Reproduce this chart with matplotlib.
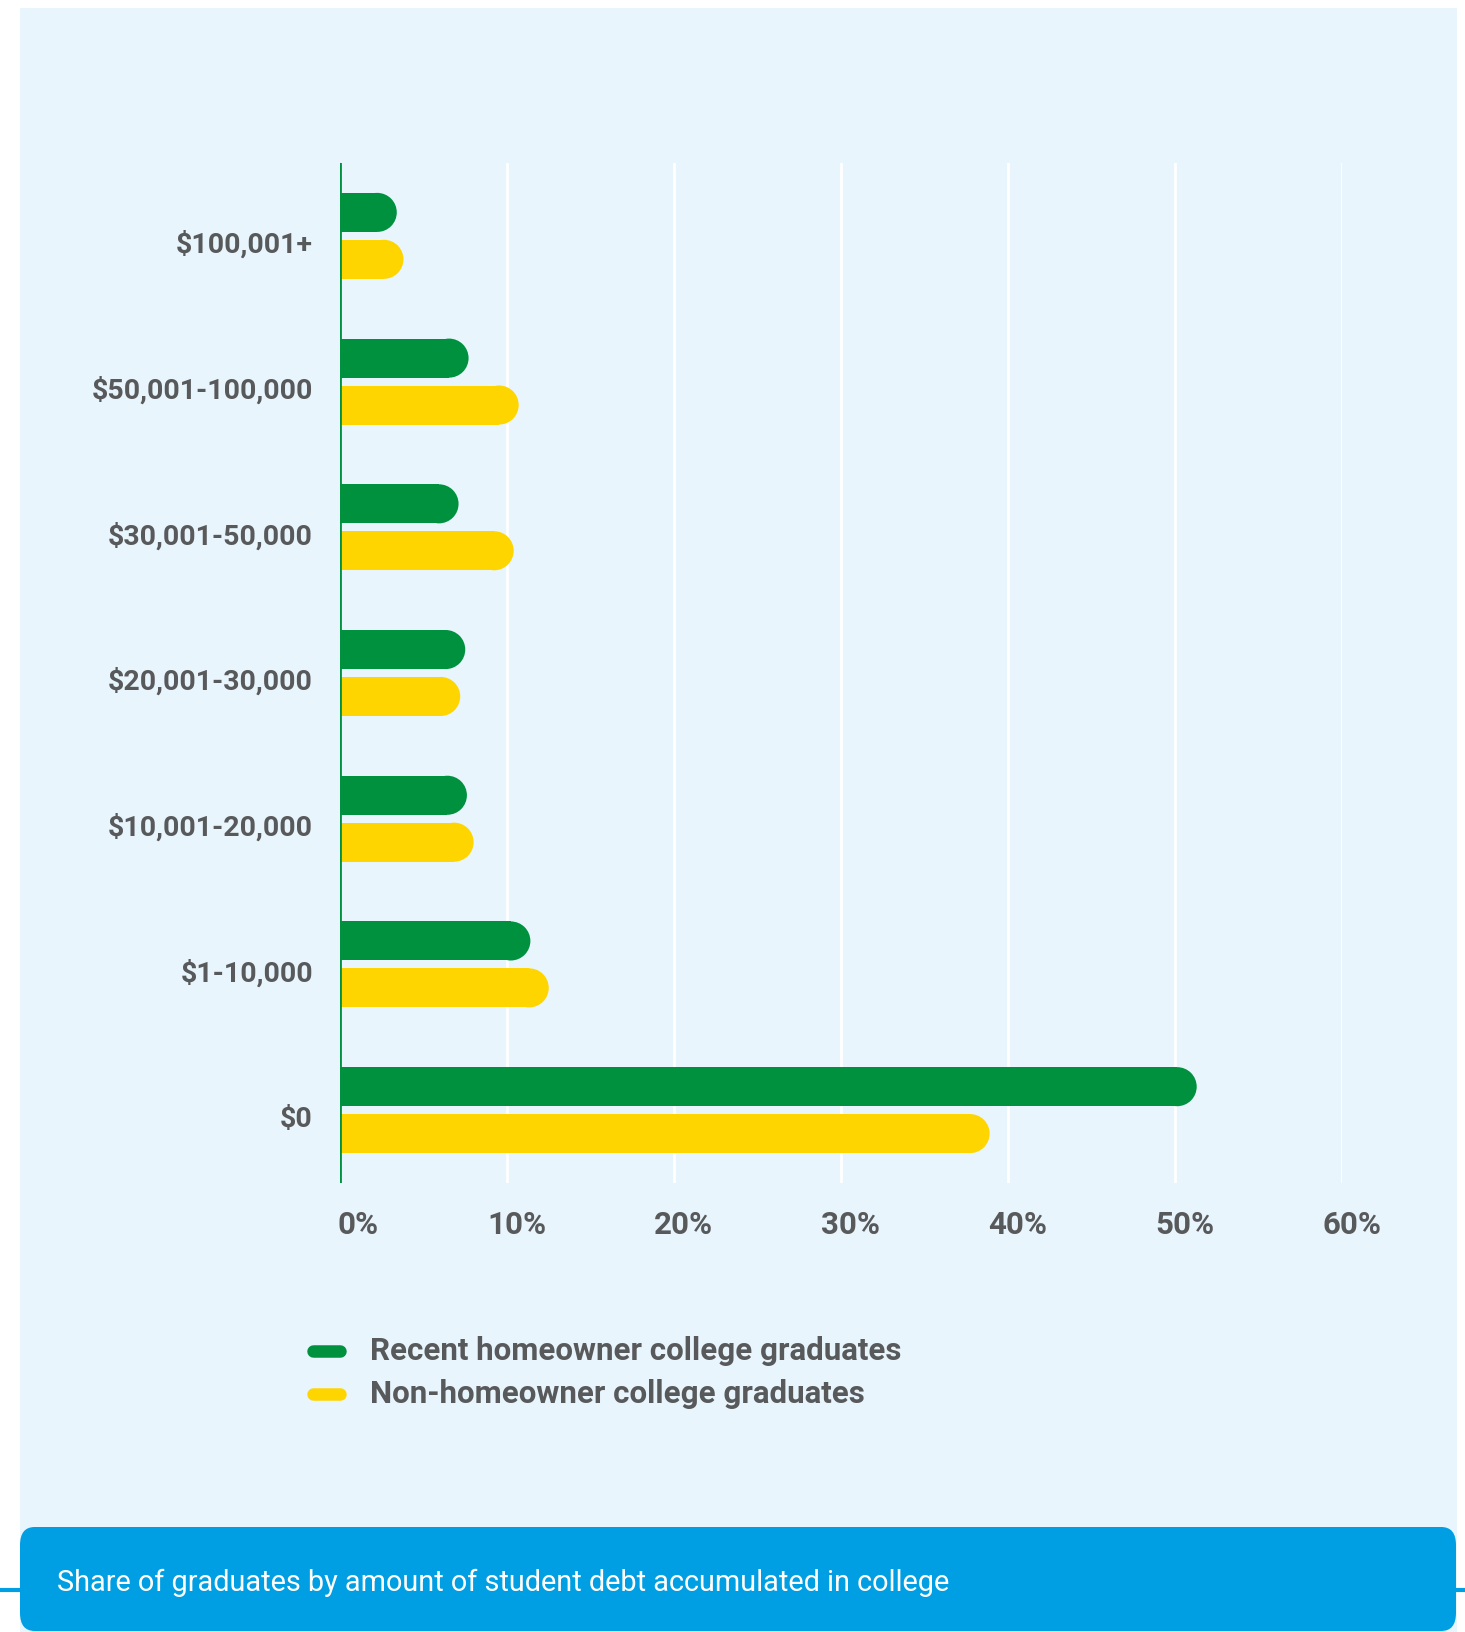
import matplotlib.pyplot as plt
from matplotlib.patches import Ellipse, FancyBboxPatch, Rectangle
from matplotlib.lines import Line2D
from matplotlib.transforms import ScaledTranslation

# student debt brackets, top to bottom
categories = ['$100,001+', '$50,001-100,000', '$30,001-50,000', '$20,001-30,000',
              '$10,001-20,000', '$1-10,000', '$0']
homeowners = [3.4, 7.7, 7.1, 7.5, 7.6, 11.4, 51.3]
non_homeowners = [3.8, 10.7, 10.4, 7.2, 8.0, 12.5, 38.9]
xticks = [0, 10, 20, 30, 40, 50, 60]
xtick_labels = ['0%', '10%', '20%', '30%', '40%', '50%', '60%']
series_names = ['Recent homeowner college graduates', 'Non-homeowner college graduates']

GREEN = '#00913f'
YELLOW = '#ffd500'
PANEL = '#e8f5fd'
BLUE = '#009fe3'
GREY = '#58595b'
FONT = 'Roboto'

W, H, DPI = 1465, 1632, 100
fig = plt.figure(figsize=(W / DPI, H / DPI), dpi=DPI, facecolor='white')


def fx(px):
    return px / W


def fy(py):
    return 1 - py / H


# light blue panel behind everything
fig.add_artist(Rectangle((fx(20), 0), fx(1437), fy(8), transform=fig.transFigure,
                         facecolor=PANEL, edgecolor='none', zorder=0))

ax_left, ax_right, ax_top, ax_bottom = 340, 1342, 163, 1183
ax = fig.add_axes([fx(ax_left), fy(ax_bottom), fx(ax_right - ax_left), (ax_bottom - ax_top) / H])
ax.set_facecolor('none')
ax.set_xlim(0, 60)
ax.set_ylim(-0.5, len(categories) - 0.5)

bar_h = 0.268
offset = 0.161
px_per_x = (ax_right - ax_left) / 60
px_per_y = (ax_bottom - ax_top) / len(categories)
cap = (bar_h * px_per_y / 2) / px_per_x  # cap radius in x units

ypos = list(range(len(categories) - 1, -1, -1))
for vals, color, dy in [(homeowners, GREEN, offset), (non_homeowners, YELLOW, -offset)]:
    ys = [y + dy for y in ypos]
    ax.barh(ys, [v - cap for v in vals], height=bar_h, color=color, zorder=3)
    for y, v in zip(ys, vals):
        ax.add_patch(Ellipse((v - cap, y), 2 * cap, bar_h, facecolor=color,
                             edgecolor='none', zorder=3))

for x in xticks[1:]:
    ax.axvline(x, color='white', lw=2, zorder=1)
ax.axvline(0, color=GREEN, lw=2, zorder=4)

for s in ax.spines.values():
    s.set_visible(False)

ax.set_yticks(ypos)
ax.set_yticklabels(categories, fontfamily=FONT, fontweight='bold', fontsize=20.5, color=GREY)
ax.set_xticks(xticks)
ax.set_xticklabels(xtick_labels, fontfamily=FONT, fontweight='bold', fontsize=22.5,
                   color=GREY, ha='right')
ax.tick_params(axis='y', length=0, pad=19.5)
ax.tick_params(axis='x', length=0, pad=19.5)
for lab in ax.get_xticklabels():
    lab.set_transform(lab.get_transform() + ScaledTranslation(39 / DPI, 0, fig.dpi_scale_trans))
for lab in ax.get_yticklabels():
    lab.set_transform(lab.get_transform() + ScaledTranslation(0, -6 / DPI, fig.dpi_scale_trans))

# legend
for i, (name, color) in enumerate(zip(series_names, [GREEN, YELLOW])):
    yy = 1351 + i * 43
    fig.add_artist(Line2D([fx(313), fx(340)], [fy(yy), fy(yy)], transform=fig.transFigure,
                          color=color, lw=9, solid_capstyle='round'))
    fig.text(fx(370), fy(yy), name, fontfamily=FONT, fontweight='bold', fontsize=22.5,
             color=GREY, ha='left', va='center')

# caption box
fig.add_artist(Line2D([0, 1], [fy(1590), fy(1590)], transform=fig.transFigure,
                      color=BLUE, lw=3, zorder=1))
fig.add_artist(FancyBboxPatch((fx(20), fy(1631)), fx(1436), (1631 - 1527) / H,
                              boxstyle='round,pad=0,rounding_size=0.01',
                              mutation_aspect=H / W, transform=fig.transFigure,
                              facecolor=BLUE, edgecolor='none', zorder=2))
fig.text(fx(57), fy(1583), 'Share of graduates by amount of student debt accumulated in college',
         fontfamily=FONT, fontsize=20.8, color='white', ha='left', va='center', zorder=3)

fig.savefig('out.png', dpi=DPI, facecolor='white')
